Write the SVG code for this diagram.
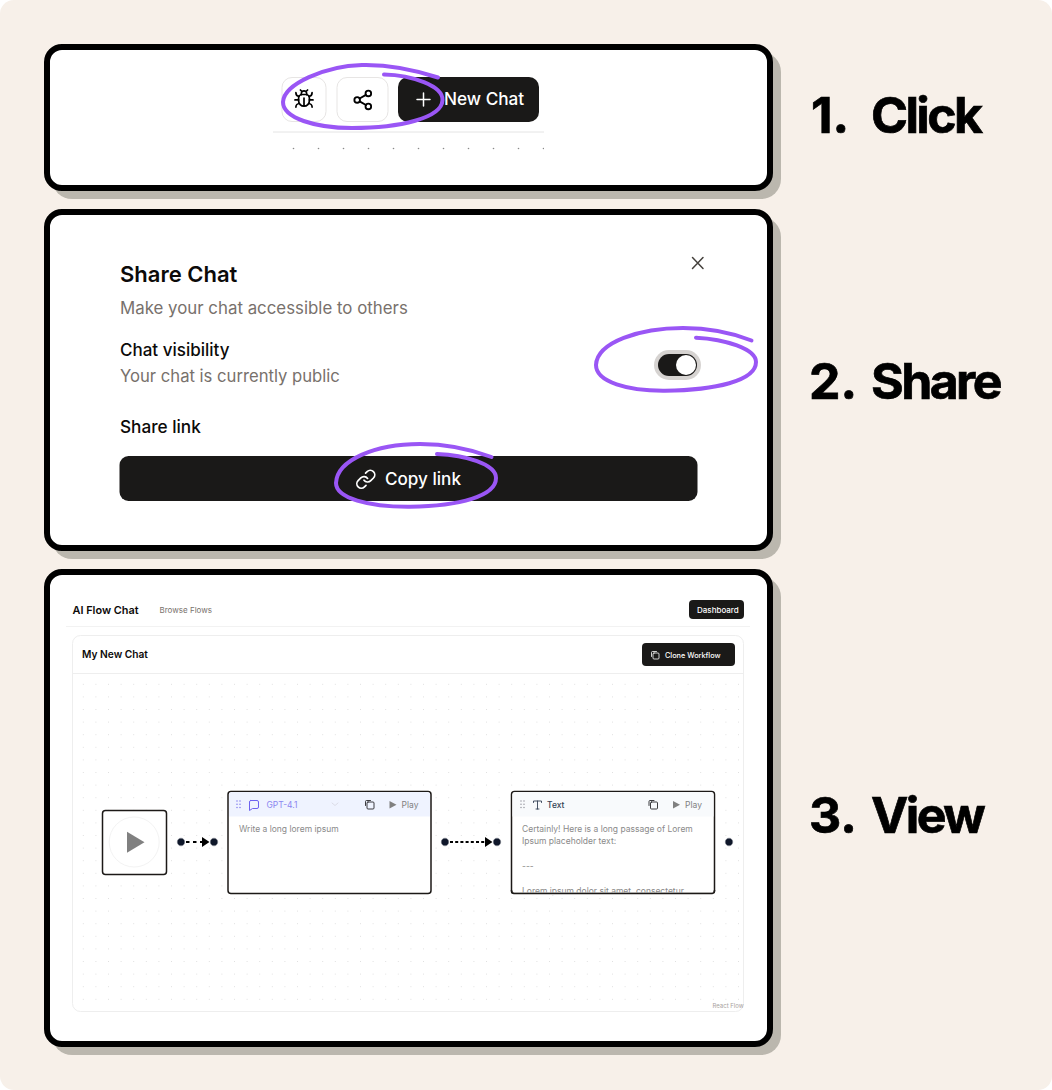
<svg xmlns="http://www.w3.org/2000/svg" width="1052" height="1090" viewBox="0 0 1052 1090">
<style>
text{font-family:Inter,"Liberation Sans",sans-serif}
.shadow{fill:#bbb7ae}
.card{fill:#fff;stroke:#000;stroke-width:6}
.step{font-size:50px;font-weight:700;fill:#000;stroke:#000;stroke-width:.7}
.word{letter-spacing:-2.6px}
.scrib{fill:none;stroke:#9a56f5;stroke-width:4;stroke-linecap:round}
.ink{fill:#1a1918}
.ic{fill:none;stroke-linecap:round;stroke-linejoin:round}
.handle{fill:#0f172a;stroke:#fff;stroke-width:1}
.node{fill:#fff;stroke:#1c1917;stroke-width:1.5}
.edge{fill:none;stroke:#000;stroke-width:2}
</style>
<defs>
<pattern id="dots" x="77" y="678" width="12.6" height="12.6" patternUnits="userSpaceOnUse"><circle cx="6.3" cy="6.3" r="0.5" fill="#d6d6d6"/></pattern>
<pattern id="dots1" x="281" y="136" width="25" height="25" patternUnits="userSpaceOnUse"><circle cx="12.5" cy="12.5" r="0.8" fill="#8a8a8a"/></pattern>
</defs>
<rect width="1052" height="1090" rx="14" fill="#f7f0e9"/>

<g id="panel-click">
<rect class="shadow" x="52" y="52" width="729" height="147" rx="20"/>
<rect class="card" x="47" y="47" width="723" height="141" rx="15"/>
<rect x="282" y="77.500" width="44" height="44" rx="10" fill="#fff" stroke="#e7e5e4"/>
<rect x="337" y="77.500" width="51" height="44" rx="10" fill="#fff" stroke="#e7e5e4"/>
<rect class="ink" x="398" y="77" width="141" height="45" rx="10"/>
<g class="ic" stroke="#000" stroke-width="1.900" transform="translate(293.200 88.200) scale(.9)">
<path d="M8 2l1.880 1.880M14.120 3.880L16 2M9 7.130v-1a3.003 3.003 0 1 1 6 0v1"/>
<path d="M12 20c-3.300 0-6-2.700-6-6v-3a4 4 0 0 1 4-4h4a4 4 0 0 1 4 4v3c0 3.300-2.700 6-6 6M12 20v-9"/>
<path d="M6.530 9C4.600 8.800 3 7.100 3 5M6 13H2M3 21c0-2.100 1.700-3.900 3.800-4M20.970 5c0 2.100-1.600 3.800-3.500 4M22 13h-4M17.200 17c2.100.1 3.800 1.900 3.800 4"/>
</g>
<g class="ic" stroke="#000" stroke-width="2" transform="translate(351.600 88.800) scale(.93)">
<circle cx="18" cy="5" r="3"/><circle cx="6" cy="12" r="3"/><circle cx="18" cy="19" r="3"/>
<path d="M8.590 13.510l6.830 3.980M15.410 6.510l-6.820 3.980"/>
</g>
<path class="ic" stroke="#fff" stroke-width="1.500" d="M417 99.500h13M423.500 93v13"/>
<text x="444" y="105" font-size="17.200" font-weight="500" fill="#fff">New Chat</text>
<path d="M273 132h271" stroke="#e4e4e4" fill="none"/>
<rect x="281" y="136" width="263" height="25" fill="url(#dots1)"/>
<path class="scrib" d="M438 77.500C412 69 385 64.500 362 65C325 66 284 84 283 102C283 118 315 128 352 128C400 128 442 118 442.500 100C443 86 412 75 384 74.500"/>
<text class="step" x="811" y="133">1.</text>
<text class="step word" x="871" y="133">Click</text>
</g>

<g id="panel-share">
<rect class="shadow" x="52" y="217" width="729" height="342" rx="20"/>
<rect class="card" x="47" y="212" width="723" height="336" rx="15"/>
<text x="120" y="282" font-size="22" font-weight="600" fill="#0c0a09">Share Chat</text>
<text x="120" y="314" font-size="16.850" fill="#78716c">Make your chat accessible to others</text>
<text x="120" y="356" font-size="17" font-weight="500" fill="#0c0a09">Chat visibility</text>
<text x="120" y="382" font-size="16.650" fill="#78716c">Your chat is currently public</text>
<text x="120" y="433" font-size="17.200" font-weight="500" fill="#0c0a09">Share link</text>
<path class="ic" stroke="#44403c" stroke-width="1.500" d="M692.500 257.500l10.500 11M703 257.500l-10.500 11"/>
<rect x="654" y="350" width="47" height="30" rx="15" fill="#d6d3d1"/>
<rect class="ink" x="658" y="354" width="39" height="22" rx="11"/>
<circle cx="686" cy="365" r="10" fill="#fff"/>
<rect class="ink" x="119.500" y="456" width="578" height="45" rx="9"/>
<g class="ic" stroke="#fff" stroke-width="1.900" transform="translate(355 468.500) scale(.9)">
<path d="M10 13a5 5 0 0 0 7.540.54l3-3a5 5 0 0 0-7.070-7.070l-1.720 1.710"/>
<path d="M14 11a5 5 0 0 0-7.540-.54l-3 3a5 5 0 0 0 7.070 7.070l1.710-1.710"/>
</g>
<text x="385" y="484.500" font-size="17.100" font-weight="500" fill="#fff">Copy link</text>
<path class="scrib" d="M751.500 340.500C730 332 705 328 683 328C640 328 597 342 596 365C596 382 628 391 665 390.700C715 390 756 381 756 362C756 349 725 339 696 337.700"/>
<path class="scrib" d="M491.500 457C470 449 445 444 420 444C375 444 337 460 336 483C336 498 368 507 410 506.700C460 506 496 496 496 478C496 464 465 455 437 454"/>
<text class="step" x="809" y="399">2.</text>
<text class="step word" x="871" y="399">Share</text>
</g>

<g id="panel-view">
<rect class="shadow" x="52" y="577" width="729" height="478" rx="20"/>
<rect class="card" x="47" y="572" width="723" height="472" rx="15"/>
<text x="72.500" y="614" font-size="10.900" font-weight="600" fill="#0c0a09">AI Flow Chat</text>
<text x="159.500" y="613" font-size="8" fill="#78716c">Browse Flows</text>
<rect class="ink" x="689" y="600" width="55" height="19" rx="4"/>
<text x="697" y="612.800" font-size="8" font-weight="500" fill="#fff">Dashboard</text>
<path d="M66 626.500h684" stroke="#f2f2f2"/>
<rect x="72.500" y="635.500" width="671" height="376" rx="8" fill="#fff" stroke="#eeeeee"/>
<path d="M73 673.500h670" stroke="#eeeeee"/>
<rect x="80" y="680" width="660" height="325" fill="url(#dots)"/>
<text x="82" y="658" font-size="10.200" font-weight="600" fill="#0c0a09">My New Chat</text>
<rect class="ink" x="642" y="643" width="93" height="23" rx="4"/>
<g class="ic" stroke="#fff" stroke-width="0.800"><rect x="653" y="653" width="6" height="6" rx="1"/><path d="M651.500 656.500v-4a1 1 0 0 1 1-1h4"/></g>
<text x="665" y="657.500" font-size="7.300" font-weight="500" fill="#fff">Clone Workflow</text>

<g id="node-start">
<rect class="node" x="102.500" y="810.500" width="64" height="64" rx="3"/>
<circle cx="134.200" cy="842" r="25" fill="#fff" stroke="#f3f3f3"/>
<path d="M127 831.700l17.500 10.500-17.500 10.500z" fill="#808080"/>
</g>
<g id="node-gpt">
<rect class="node" x="228" y="791.500" width="203" height="102" rx="3"/>
<path d="M229 816.500v-22a2.500 2.500 0 0 1 2.500-2.500h196a2.500 2.500 0 0 1 2.500 2.500v22z" fill="#eff3ff"/>
<g fill="#8b86f0"><circle cx="237" cy="801" r=".8"/><circle cx="240" cy="801" r=".8"/><circle cx="237" cy="804.300" r=".8"/><circle cx="240" cy="804.300" r=".8"/><circle cx="237" cy="807.500" r=".8"/><circle cx="240" cy="807.500" r=".8"/></g>
<path class="ic" stroke="#6d62f0" stroke-width="1" d="M250.500 800.500h6.500a1.500 1.500 0 0 1 1.500 1.500v5a1.500 1.500 0 0 1-1.500 1.500h-4.500l-3 2v-8.500a1.500 1.500 0 0 1 1-1.500z"/>
<text x="266.500" y="807.500" font-size="8.500" fill="#8b86f0">GPT-4.1</text>
<path class="ic" stroke="#d6d6e0" stroke-width="0.800" d="M332 803l3 2.500 3-2.500"/>
<g class="ic" stroke="#27272a" stroke-width="0.900"><rect x="367" y="802" width="7" height="7" rx="1"/><path d="M365.500 805.500v-4a1 1 0 0 1 1-1h4"/></g>
<path d="M389.500 801l7 3.800-7 3.800z" fill="#808080"/>
<text x="401.500" y="807.500" font-size="8.500" fill="#808080">Play</text>
<text x="239" y="831.500" font-size="8.500" fill="#8a8a8a">Write a long lorem ipsum</text>
</g>
<g id="node-text">
<rect class="node" x="511.500" y="791.500" width="203" height="102" rx="3"/>
<path d="M512.500 816.500v-22a2.500 2.500 0 0 1 2.500-2.500h196a2.500 2.500 0 0 1 2.500 2.500v22z" fill="#f8fafc"/>
<g fill="#a0a0a8"><circle cx="521" cy="801" r=".8"/><circle cx="524" cy="801" r=".8"/><circle cx="521" cy="804.300" r=".8"/><circle cx="524" cy="804.300" r=".8"/><circle cx="521" cy="807.500" r=".8"/><circle cx="524" cy="807.500" r=".8"/></g>
<path class="ic" stroke="#334155" stroke-width="0.900" d="M533.500 802.500v-1.500h8v1.500M537.500 801v8M536 809h3"/>
<text x="547" y="807.500" font-size="8.500" font-weight="500" fill="#334155">Text</text>
<g class="ic" stroke="#27272a" stroke-width="0.900"><rect x="650.500" y="802" width="7" height="7" rx="1"/><path d="M649 805.500v-4a1 1 0 0 1 1-1h4"/></g>
<path d="M673 801l7 3.800-7 3.800z" fill="#808080"/>
<text x="685" y="807.500" font-size="8.500" fill="#808080">Play</text>
<g font-size="8.500" fill="#8a8a8a">
<text x="522" y="831.500">Certainly! Here is a long passage of Lorem</text>
<text x="522" y="844">Ipsum placeholder text:</text>
<text x="522" y="869">---</text>
<text x="522" y="894">Lorem ipsum dolor sit amet, consectetur</text>
</g>
<rect x="512" y="892.600" width="202" height="3" fill="#fff"/>
<path d="M511.500 890v1a2.500 2.500 0 0 0 2.500 2.500h198a2.500 2.500 0 0 0 2.500-2.500v-1" fill="none" stroke="#1c1917" stroke-width="1.500"/>
</g>

<g id="connectors">
<path class="edge" stroke-dasharray="3.500 3.500" d="M186 842h17"/>
<path d="M202 837l7.500 5-7.500 5z" fill="#000"/>
<path class="edge" stroke-dasharray="3 2.200" d="M450 842h36"/>
<path d="M485 837l7.500 5-7.500 5z" fill="#000"/>
<circle class="handle" cx="181" cy="842" r="4.200"/>
<circle class="handle" cx="214" cy="842" r="4.200"/>
<circle class="handle" cx="445" cy="842" r="4.200"/>
<circle class="handle" cx="497" cy="842" r="4.200"/>
<circle class="handle" cx="729" cy="842" r="4.200"/>
</g>
<text x="712.500" y="1008" font-size="6" fill="#a8a29e">React Flow</text>
<text class="step" x="809" y="833">3.</text>
<text class="step word" x="871" y="833">View</text>
</g>
</svg>
